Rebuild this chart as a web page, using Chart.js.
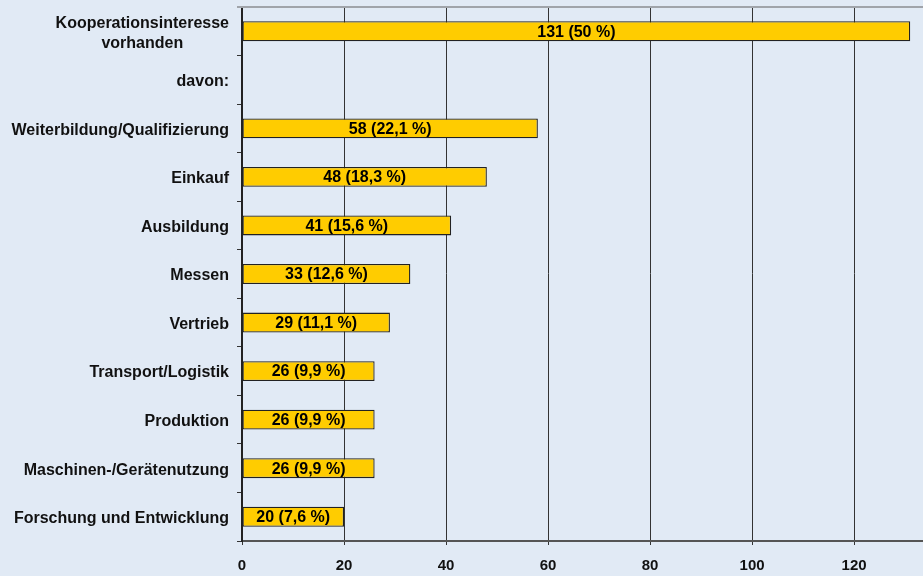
<!DOCTYPE html>
<html>
<head>
<meta charset="utf-8">
<script src="https://cdn.jsdelivr.net/npm/chart.js@4/dist/chart.umd.min.js"></script>
<style>
    html, body { margin: 0; padding: 0; background: #e1eaf5; }
    #wrap { width: 923px; height: 576px; position: relative; }
</style>
</head>
<body>
<div id="wrap"><canvas id="kooperation"></canvas></div>
<script>
const categories = [
    ['Kooperationsinteresse', 'vorhanden'],
    'davon:',
    'Weiterbildung/Qualifizierung',
    'Einkauf',
    'Ausbildung',
    'Messen',
    'Vertrieb',
    'Transport/Logistik',
    'Produktion',
    'Maschinen-/Gerätenutzung',
    'Forschung und Entwicklung'
];
const anzahl = [131, null, 58, 48, 41, 33, 29, 26, 26, 26, 20];
const anteil = ['50', null, '22,1', '18,3', '15,6', '12,6', '11,1', '9,9', '9,9', '9,9', '7,6'];
const xTicks = [0, 20, 40, 60, 80, 100, 120];

const labelFont = 'bold 16px "Liberation Sans", Arial';

window.onload = function() {
    const valueLabelsPlugin = {
        id: 'valueLabels',
        afterDatasetsDraw: function(chart) {
            const ctx = chart.ctx;
            const meta = chart.getDatasetMeta(0);
            meta.data.forEach((bar, index) => {
                if (anzahl[index] === null) return;
                ctx.save();
                ctx.fillStyle = '#000';
                ctx.font = labelFont;
                ctx.textAlign = 'center';
                ctx.textBaseline = 'middle';
                const mid = (bar.x + bar.base) / 2;
                ctx.fillText(anzahl[index] + ' (' + anteil[index] + ' %)', mid, bar.y + 1);
                ctx.restore();
            });
        }
    };

    // graue Linie oben + zweizeilige Beschriftung zentriert
    const topLinePlugin = {
        id: 'topLine',
        beforeDraw: function(chart) {
            const items = chart.scales.y.getLabelItems();
            items.forEach(item => {
                if (item.shifted) return;
                item.shifted = true;
                item.options.translation[1] += 2;
                if (Array.isArray(item.label)) {
                    const ctx = chart.ctx;
                    ctx.save();
                    ctx.font = labelFont;
                    const w = Math.max(...item.label.map(t => ctx.measureText(t).width));
                    ctx.restore();
                    item.options.textAlign = 'center';
                    item.options.translation[0] -= w / 2;
                }
            });
        },
        beforeDatasetsDraw: function(chart) {
            const ctx = chart.ctx;
            const a = chart.chartArea;
            ctx.save();
            ctx.strokeStyle = '#a0a4aa';
            ctx.lineWidth = 2;
            ctx.beginPath();
            ctx.moveTo(a.left - 5, a.top);
            ctx.lineTo(a.right, a.top);
            ctx.stroke();
            ctx.restore();
        }
    };

    const ctx = document.getElementById('kooperation').getContext('2d');
    new Chart(ctx, {
        type: 'bar',
        data: {
            labels: categories,
            datasets: [{
                data: anzahl,
                backgroundColor: '#ffcc00',
                borderColor: '#222',
                borderWidth: 1.3,
                borderSkipped: false,
                barPercentage: 0.41,
                categoryPercentage: 1
            }]
        },
        options: {
            indexAxis: 'y',
            responsive: true,
            maintainAspectRatio: false,
            animation: false,
            layout: { padding: { top: 7, right: 0, left: 0, bottom: 0 } },
            plugins: {
                legend: { display: false },
                tooltip: { enabled: false }
            },
            scales: {
                x: {
                    min: 0,
                    max: 133.5,
                    afterBuildTicks: function(scale) {
                        scale.ticks = xTicks.map(v => ({ value: v }));
                    },
                    afterFit: function(scale) {
                        scale.height = 35;
                        scale.paddingLeft = 0;
                        scale.paddingRight = 0;
                    },
                    grid: {
                        color: '#333',
                        lineWidth: 1,
                        tickLength: 4,
                        tickColor: '#333'
                    },
                    border: { color: '#555', width: 2 },
                    ticks: {
                        color: '#111',
                        padding: 12,
                        maxRotation: 0,
                        font: { family: '"Liberation Sans", Arial', size: 15, weight: 'bold' }
                    }
                },
                y: {
                    afterFit: function(scale) {
                        scale.width = 242;
                        scale.paddingTop = 0;
                        scale.paddingBottom = 0;
                    },
                    grid: {
                        drawOnChartArea: false,
                        tickLength: 5,
                        color: '#333',
                        offset: true
                    },
                    border: { color: '#222', width: 2 },
                    ticks: {
                        color: '#111',
                        padding: 8,
                        font: { family: '"Liberation Sans", Arial', size: 16, weight: 'bold', lineHeight: 1.25 }
                    }
                }
            }
        },
        plugins: [valueLabelsPlugin, topLinePlugin]
    });
};
</script>
</body>
</html>
